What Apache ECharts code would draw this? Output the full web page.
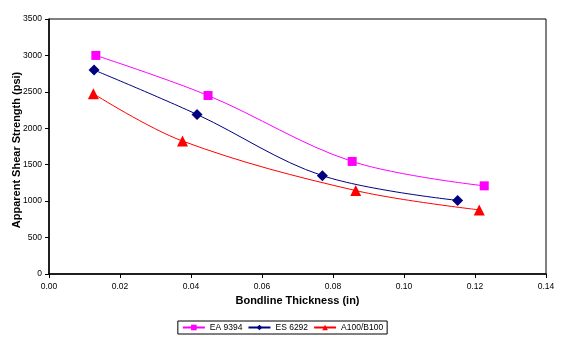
<!DOCTYPE html>
<html><head><meta charset="utf-8">
<script src="https://cdn.jsdelivr.net/npm/echarts@6/dist/echarts.min.js"></script>
<style>html,body{margin:0;padding:0;background:#fff}#c{width:565px;height:341px}</style>
</head><body><div id="c"></div>
<script>
const eaX = [0.0132, 0.0448, 0.0854, 0.1226];
const eaY = [3000, 2450, 1545, 1210];
const esX = [0.0127, 0.0417, 0.0770, 0.1151];
const esY = [2800, 2190, 1350, 1010];
const abX = [0.0125, 0.0376, 0.0864, 0.1212];
const abY = [2475, 1825, 1145, 880];
const xTicks = [0, 0.02, 0.04, 0.06, 0.08, 0.10, 0.12, 0.14];
const yTicks = [0, 500, 1000, 1500, 2000, 2500, 3000, 3500];

const pair = (xs, ys) => xs.map((x, i) => [x, ys[i]]);
const font = 'Liberation Sans, Arial, sans-serif';
const chart = echarts.init(document.getElementById('c'));
chart.setOption({
  animation: false,
  backgroundColor: '#fff',
  grid: {left: 49, right: 19, top: 19, bottom: 67, show: true, borderColor: '#000', borderWidth: 1,
         containLabel: false, outerBoundsMode: 'none'},
  xAxis: {
    type: 'value', min: 0, max: 0.14, interval: 0.02,
    name: 'Bondline Thickness (in)', nameLocation: 'middle', nameGap: 21, nameMoveOverlap: false,
    nameTextStyle: {fontFamily: font, fontWeight: 'bold', fontSize: 11, color: '#000'},
    axisLine: {lineStyle: {color: '#000', width: 1.5}},
    axisTick: {show: true, length: 4, lineStyle: {color: '#000'}},
    splitLine: {show: false},
    axisLabel: {fontFamily: font, fontSize: 8.5, color: '#000', margin: 8, formatter: v => v.toFixed(2)}
  },
  yAxis: {
    type: 'value', min: 0, max: 3500, interval: 500,
    name: 'Apparent Shear Strength (psi)', nameLocation: 'middle', nameGap: 27, nameMoveOverlap: false,
    nameTextStyle: {fontFamily: font, fontWeight: 'bold', fontSize: 11, color: '#000', padding: [0, 7, 0, 0]},
    axisLine: {show: true, lineStyle: {color: '#000', width: 1.5}},
    axisTick: {show: true, length: 4, lineStyle: {color: '#000'}},
    splitLine: {show: false},
    axisLabel: {fontFamily: font, fontSize: 8.5, color: '#000', margin: 7, formatter: v => String(v)}
  },
  legend: {
    bottom: 7, left: 'center', orient: 'horizontal',
    borderColor: '#000', borderWidth: 1, padding: [2, 4], itemGap: 5,
    itemWidth: 22, itemHeight: 7,
    textStyle: {fontFamily: font, fontSize: 8.5, color: '#000'},
    data: ['EA 9394', 'ES 6292', 'A100/B100']
  },
  series: [
    {name: 'EA 9394', type: 'line', smooth: 0.35, data: pair(eaX, eaY),
     symbol: 'rect', symbolSize: 9, itemStyle: {color: '#ff00ff'}, lineStyle: {color: '#ff00ff', width: 1}},
    {name: 'ES 6292', type: 'line', smooth: 0.35, data: pair(esX, esY),
     symbol: 'diamond', symbolSize: 11, itemStyle: {color: '#000080'}, lineStyle: {color: '#000080', width: 1}},
    {name: 'A100/B100', type: 'line', smooth: 0.35, data: pair(abX, abY),
     symbol: 'triangle', symbolSize: 11, itemStyle: {color: '#ff0000'}, lineStyle: {color: '#ff0000', width: 1}}
  ]
});
</script></body></html>
